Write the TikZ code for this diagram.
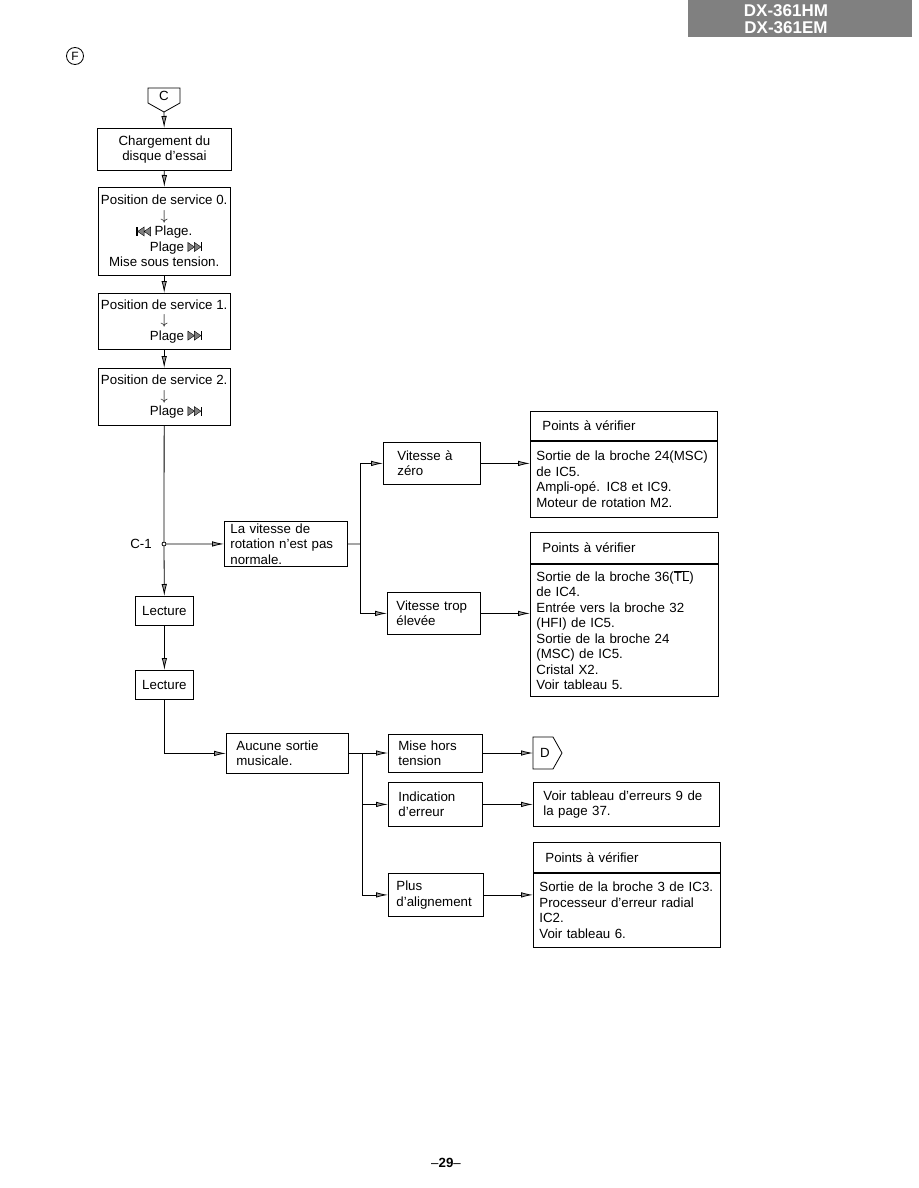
\documentclass[tikz,border=0pt]{standalone}
\usepackage{fontspec}
\setmainfont{Liberation Sans}
\usepackage{tikz}
\usetikzlibrary{arrows.meta,positioning}
\definecolor{HdrGray}{RGB}{128,128,128}

\tikzset{
  flowbox/.style={draw, anchor=north west, align=center, inner sep=1pt},
  notebox/.style={draw, anchor=north west, align=left, inner xsep=6pt, inner ysep=0pt},
  hdrbox/.style={draw, anchor=north west, align=left, inner xsep=12pt, inner ysep=0pt},
  flowarrow/.style={-{Latex[length=12pt,width=5.5pt,fill=black!40]}},
}

% skip symbols drawn inline
\newcommand{\skipfwd}{\tikz[baseline=0pt,x=1pt,y=1pt,line width=0.4pt]{%
  \filldraw[fill=black!50] (0,0)--(0,9)--(6.5,4.5)--cycle (6.5,0)--(6.5,9)--(13,4.5)--cycle;
  \fill (13,0) rectangle (14.5,9);}}
\newcommand{\skipback}{\tikz[baseline=0pt,x=1pt,y=1pt,line width=0.4pt]{%
  \fill (0,0) rectangle (1.5,9);
  \filldraw[fill=black!50] (8,0)--(8,9)--(1.5,4.5)--cycle (14.5,0)--(14.5,9)--(8,4.5)--cycle;}}

\begin{document}
\begin{tikzpicture}[x=1pt, y=-1pt, line width=0.8pt,
  font=\fontsize{13.3}{15.5}\selectfont]
  \useasboundingbox (0,0) rectangle (918,1188);
  \fill[white] (0,0) rectangle (918,1188);

  % page header
  \fill[HdrGray] (688,0) rectangle (912,37);
  \node[text=white, align=center, inner sep=0pt,
        font=\fontsize{17}{17}\selectfont\bfseries] (model) at (786,19)
        {DX-361HM\\DX-361EM};
  \node[circle, draw, inner sep=0pt, minimum size=17pt,
        font=\fontsize{12}{12}\selectfont] (fmark) at (75,56) {F};

  % entry connector C
  \draw (148,88) -- (180,88) -- (180,103) -- (164,112) -- (148,103) -- cycle;
  \node (cmark) at (164,96) {C};
  \coordinate (ctip) at (164,112);

  \node[flowbox, minimum width=134, minimum height=42] (load) at (97,128)
    {Chargement du\\disque d’essai};
  \node[flowbox, minimum width=132, minimum height=88] (serv0) at (98,187)
    {Position de service 0.\\
     $\downarrow$\\
     \skipback\ Plage.\hspace*{22pt}\\
     \hspace*{24pt}Plage \skipfwd\\
     Mise sous tension.};
  \node[flowbox, minimum width=132, minimum height=56] (serv1) at (98,293)
    {Position de service 1.\\
     $\downarrow$\\
     \hspace*{24pt}Plage \skipfwd};
  \node[flowbox, minimum width=132, minimum height=57] (serv2) at (98,368)
    {Position de service 2.\\
     $\downarrow$\\
     \hspace*{24pt}Plage \skipfwd};

  \draw[flowarrow] (ctip) -- (load);
  \draw[flowarrow] (load) -- (serv0);
  \draw[flowarrow] (serv0) -- (serv1);
  \draw[flowarrow] (serv1) -- (serv2);

  % C-1 branch
  \node[circle, draw, fill=white, inner sep=0pt, minimum size=4pt] (c1) at (164,544) {};
  \node (c1lbl) at (141,544) {C-1};
  \node[notebox, text width=111, minimum height=45] (rot) at (224,521)
    {La vitesse de\\rotation n’est pas\\normale.};
  \coordinate (j1) at (360,544);
  \node[notebox, inner xsep=14pt, text width=69, minimum height=42] (zero) at (383,442)
    {Vitesse à\\zéro};
  \node[notebox, inner xsep=9pt, text width=75, minimum height=42] (fast) at (387,592)
    {Vitesse trop\\élevée};

  \node[hdrbox, text width=163, minimum height=29] (chk1h) at (530,411)
    {Points à vérifier};
  \node[notebox, text width=175, minimum height=76] (chk1) at (chk1h.south west)
    {Sortie de la broche 24(MSC)\\de IC5.\\Ampli-opé. IC8 et IC9.\\Moteur de rotation M2.};
  \node[hdrbox, text width=164, minimum height=31] (chk2h) at (530,532)
    {Points à vérifier};
  \node[notebox, text width=176, minimum height=132] (chk2) at (chk2h.south west)
    {Sortie de la broche 36($\overline{\mbox{TL}}$)\\de IC4.\\Entrée vers la broche 32\\(HFI) de IC5.\\Sortie de la broche 24\\(MSC) de IC5.\\Cristal X2.\\Voir tableau 5.};

  \draw (serv2) -- (c1);
  \draw[flowarrow] (c1) -- (rot);
  \draw (rot.east) -- (j1);
  \draw[flowarrow] (j1) |- (zero.west);
  \draw[flowarrow] (j1) |- (fast.west);
  \draw[flowarrow] (zero) -- (zero -| chk1.west);
  \draw[flowarrow] (fast) -- (fast -| chk2.west);

  % reading
  \node[flowbox, minimum width=58, minimum height=29] (read1) at (135,596) {Lecture};
  \node[flowbox, minimum width=58, minimum height=29] (read2) at (135,670) {Lecture};
  \draw[flowarrow] (c1) -- (read1);
  \draw[flowarrow] (read1) -- (read2);

  % no sound output
  \node[notebox, inner xsep=10pt, text width=102, minimum height=40] (nosnd) at (226,733)
    {Aucune sortie\\musicale.};
  \coordinate (j2) at (362,753);
  \node[notebox, inner xsep=10pt, text width=74, minimum height=38] (poff) at (388,734)
    {Mise hors\\tension};
  \node[notebox, inner xsep=10pt, text width=74, minimum height=44] (errind) at (388,782)
    {Indication\\d’erreur};
  \node[notebox, inner xsep=8pt, text width=79, minimum height=43] (align) at (388,873)
    {Plus\\d’alignement};

  \draw (533,737) -- (553,737) -- (562,753) -- (553,769) -- (533,769) -- cycle;
  \node (dmark) at (545,753) {D};
  \coordinate (dleft) at (533,753);

  \node[notebox, inner xsep=10pt, text width=166, minimum height=44] (errtab) at (533,782)
    {Voir tableau d’erreurs 9 de\\la page 37.};
  \node[hdrbox, text width=163, minimum height=30] (chk3h) at (533,842)
    {Points à vérifier};
  \node[notebox, text width=175, minimum height=74] (chk3) at (chk3h.south west)
    {Sortie de la broche 3 de IC3.\\Processeur d’erreur radial\\IC2.\\Voir tableau 6.};

  \draw[flowarrow] (read2.south) |- (nosnd.west);
  \draw (nosnd.east |- j2) -- (j2);
  \draw[flowarrow] (j2) -- (j2 -| poff.west);
  \draw[flowarrow] (j2) |- (errind.west);
  \draw[flowarrow] (j2) |- (align.west);
  \draw[flowarrow] (poff.east |- dleft) -- (dleft);
  \draw[flowarrow] (errind) -- (errind -| errtab.west);
  \draw[flowarrow] (align) -- (align -| chk3.west);

  \node (pageno) at (446,1163) {\textendash\textbf{29}\textendash};
\end{tikzpicture}
\end{document}
